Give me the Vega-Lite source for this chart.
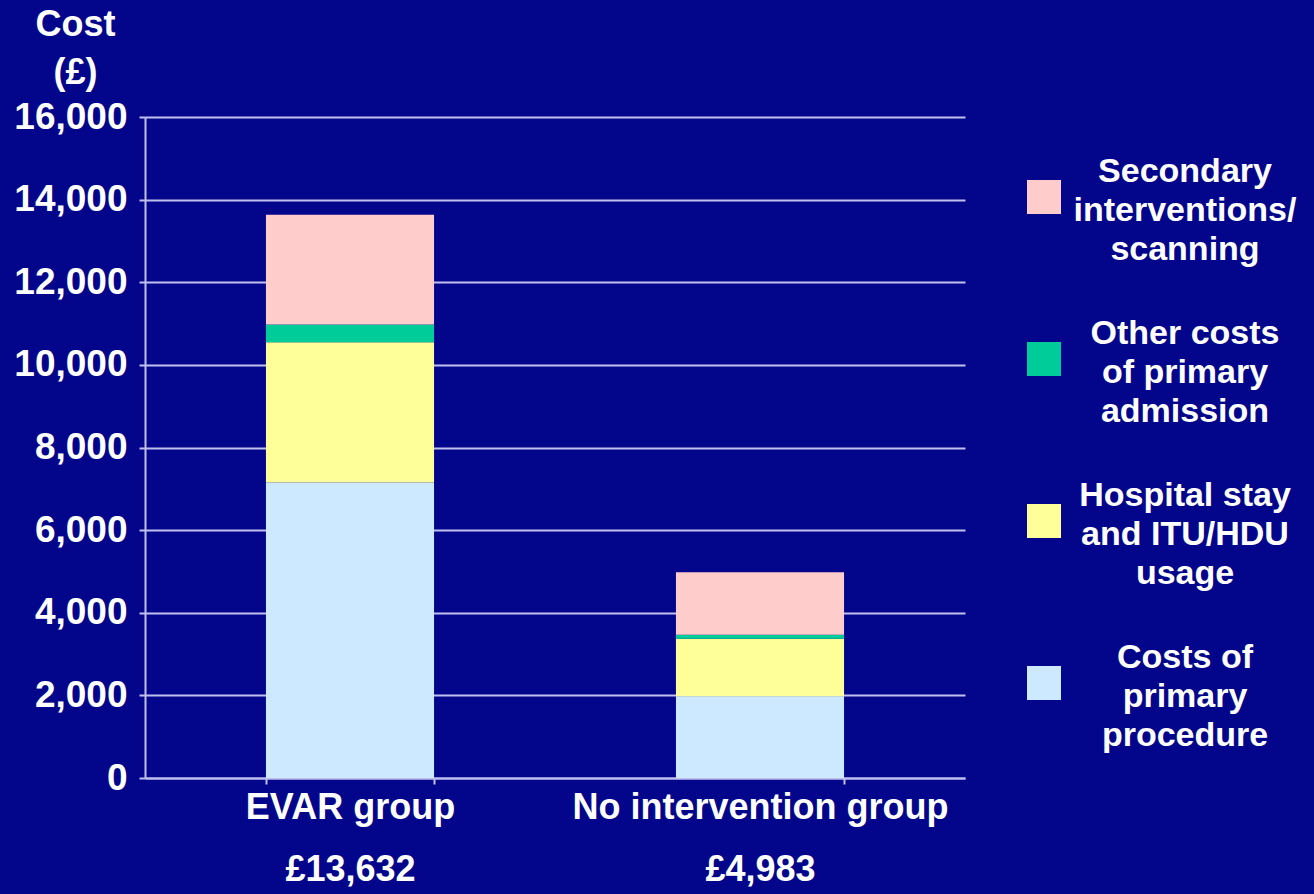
{
  "$schema": "https://vega.github.io/schema/vega-lite/v6.json",
  "autosize": "none",
  "width": 820,
  "height": 661,
  "padding": {"left": 145, "top": 117, "right": 349, "bottom": 116},
  "background": "#03068a",
  "config": {
    "view": {"stroke": null},
    "font": "Liberation Sans"
  },
  "data": {
    "values": [
      {"group": "EVAR group", "component": "Costs of primary procedure", "level": 1, "cost": 7150},
      {"group": "EVAR group", "component": "Hospital stay and ITU/HDU usage", "level": 2, "cost": 3400},
      {"group": "EVAR group", "component": "Other costs of primary admission", "level": 3, "cost": 430},
      {"group": "EVAR group", "component": "Secondary interventions/scanning", "level": 4, "cost": 2652},
      {"group": "No intervention group", "component": "Costs of primary procedure", "level": 1, "cost": 1980},
      {"group": "No intervention group", "component": "Hospital stay and ITU/HDU usage", "level": 2, "cost": 1390},
      {"group": "No intervention group", "component": "Other costs of primary admission", "level": 3, "cost": 100},
      {"group": "No intervention group", "component": "Secondary interventions/scanning", "level": 4, "cost": 1513}
    ]
  },
  "mark": {"type": "bar"},
  "encoding": {
    "x": {
      "field": "group",
      "type": "nominal",
      "sort": ["EVAR group", "No intervention group"],
      "scale": {"paddingInner": 0.59, "paddingOuter": 0.295},
      "axis": {
        "title": null,
        "labelAngle": 0,
        "labelExpr": "datum.value == 'EVAR group' ? ['EVAR group', '£13,632'] : datum.value == 'No intervention group' ? ['No intervention group', '£4,983'] : ''",
        "labelLineHeight": 62,
        "labelLimit": 600,
        "labelFont": "Liberation Sans",
        "labelFontSize": 36,
        "labelFontWeight": "bold",
        "labelColor": "#ffffff",
        "labelBaseline": "top",
        "labelPadding": 6,
        "domainColor": "#c0c0f0",
        "domainWidth": 2,
        "ticks": true,
        "tickBand": "extent",
        "tickColor": "#c0c0f0",
        "tickWidth": 2,
        "tickSize": 6,
        "grid": false
      }
    },
    "y": {
      "field": "cost",
      "type": "quantitative",
      "stack": "zero",
      "scale": {"domain": [0, 16000], "nice": false},
      "axis": {
        "title": ["Cost", "(£)"],
        "titleAngle": 0,
        "titleAlign": "center",
        "titleBaseline": "top",
        "titleX": -70,
        "titleY": -110,
        "titleLineHeight": 48,
        "titleFont": "Liberation Sans",
        "titleFontSize": 36,
        "titleFontWeight": "bold",
        "titleColor": "#ffffff",
        "values": [0, 2000, 4000, 6000, 8000, 10000, 12000, 14000, 16000],
        "format": ",d",
        "labelFont": "Liberation Sans",
        "labelFontSize": 37,
        "labelFontWeight": "bold",
        "labelColor": "#ffffff",
        "labelPadding": 12,
        "grid": true,
        "gridColor": "#c0c0f0",
        "gridWidth": 2,
        "domainColor": "#c0c0f0",
        "domainWidth": 2,
        "tickColor": "#c0c0f0",
        "tickWidth": 2,
        "tickSize": 6
      }
    },
    "color": {
      "field": "component",
      "type": "nominal",
      "scale": {
        "domain": ["Secondary interventions/scanning", "Other costs of primary admission", "Hospital stay and ITU/HDU usage", "Costs of primary procedure"],
        "range": ["#ffcccc", "#00cc99", "#ffff99", "#cce9ff"]
      },
      "legend": {
        "title": null,
        "orient": "none",
        "legendX": 882,
        "legendY": 63,
        "symbolType": "square",
        "symbolSize": 1156,
        "symbolStrokeWidth": 0,
        "symbolOpacity": 1,
        "labelAlign": "center",
        "labelBaseline": "middle",
        "labelOffset": 124,
        "labelLimit": 400,
        "labelFont": "Liberation Sans",
        "labelFontSize": 34,
        "labelFontWeight": "bold",
        "labelColor": "#ffffff",
        "rowPadding": 50,
        "labelExpr": "datum.label == 'Secondary interventions/scanning' ? ['Secondary', 'interventions/', 'scanning'] : datum.label == 'Other costs of primary admission' ? ['Other costs', 'of primary', 'admission'] : datum.label == 'Hospital stay and ITU/HDU usage' ? ['Hospital stay', 'and ITU/HDU', 'usage'] : ['Costs of', 'primary', 'procedure']",
        "encode": {
          "labels": {"update": {"lineHeight": {"value": 39}, "dy": {"value": -25}}}
        }
      }
    },
    "order": {"field": "level", "type": "quantitative", "sort": "ascending"}
  }
}
